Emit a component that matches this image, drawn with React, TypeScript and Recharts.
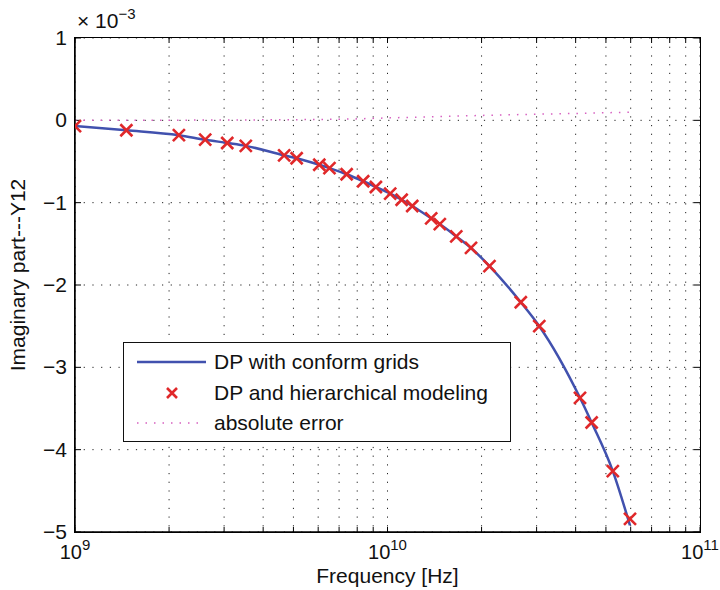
import React from "react"
import {
  CartesianGrid,
  ComposedChart,
  Label,
  Legend,
  Line,
  Scatter,
  XAxis,
  YAxis,
} from "recharts"

// frequencies in Hz
const freqs = [
  1.0e9, 1.46e9, 2.15e9, 2.61e9, 3.07e9, 3.52e9, 4.67e9, 5.12e9, 6.05e9, 6.52e9, 7.4e9, 8.36e9, 9.18e9,
  1.02e10, 1.11e10, 1.2e10, 1.38e10, 1.47e10, 1.66e10, 1.85e10, 2.12e10, 2.67e10, 3.06e10, 4.13e10,
  4.5e10, 5.26e10, 5.97e10,
]

// imaginary part of Y12, in units of 1e-3
const conformValues = [
  -0.07, -0.12, -0.18, -0.235, -0.275, -0.31, -0.425, -0.46, -0.54, -0.58, -0.655, -0.74, -0.81, -0.89,
  -0.965, -1.04, -1.19, -1.26, -1.41, -1.55, -1.77, -2.21, -2.5, -3.37, -3.67, -4.26, -4.92,
]
const hierValues = [
  -0.07, -0.12, -0.18, -0.235, -0.275, -0.31, -0.425, -0.46, -0.54, -0.58, -0.655, -0.74, -0.81, -0.89,
  -0.965, -1.04, -1.19, -1.26, -1.41, -1.55, -1.77, -2.21, -2.5, -3.37, -3.67, -4.26, -4.84,
]
const errorValues = [
  0, 0, 0.002, 0.003, 0.004, 0.005, 0.007, 0.008, 0.01, 0.012, 0.015, 0.02, 0.025, 0.03, 0.034, 0.037,
  0.043, 0.046, 0.051, 0.056, 0.062, 0.07, 0.075, 0.085, 0.088, 0.094, 0.1,
]

const xTicks = [
  1e9, 2e9, 3e9, 4e9, 5e9, 6e9, 7e9, 8e9, 9e9, 1e10, 2e10, 3e10, 4e10, 5e10, 6e10, 7e10, 8e10, 9e10, 1e11,
]
const yTicks = [-5, -4, -3, -2, -1, 0, 1]

const seriesNames = ["DP with conform grids", "DP and hierarchical modeling", "absolute error"]

const data = freqs.map((f, i) => ({
  freq: f,
  conform: conformValues[i],
  hier: hierValues[i],
  err: errorValues[i],
}))

const FONT = "'Liberation Sans', Arial, Helvetica, sans-serif"
const BLUE = "#4151ae"
const RED = "#e0282a"
const PINK = "#d660c0"
const GRID_DASH = "1.2 7.5"

// plot box (matches the chart margins / axis sizes below)
const PLOT = { left: 75, top: 38, width: 625, height: 494 }

const isDecade = (v: number) => Math.abs(Math.log10(v) - Math.round(Math.log10(v))) < 1e-6

function BottomTick({ x, y, payload }: any) {
  const v = payload.value
  if (!isDecade(v)) return <g />
  return (
    <text x={x} y={y + 27} textAnchor="middle" fontFamily={FONT} fontSize={20} fill="#111">
      10
      <tspan dy={-9} fontSize={15}>
        {Math.round(Math.log10(v))}
      </tspan>
    </text>
  )
}

function LeftTick({ x, y, payload }: any) {
  const v = payload.value
  return (
    <text x={x - 8} y={y + 7} textAnchor="end" fontFamily={FONT} fontSize={21} fill="#111">
      {v < 0 ? `\u2212${Math.abs(v)}` : `${v}`}
    </text>
  )
}

// dotted grid line with short inward ticks on both ends (MATLAB style)
function VGridLine({ x1, y1, x2, y2 }: any) {
  return (
    <g>
      <line x1={x1} y1={y1} x2={x2} y2={y2} stroke="#222" strokeDasharray={GRID_DASH} />
      <line x1={x1} y1={y1} x2={x1} y2={y1 + 5} stroke="#000" />
      <line x1={x2} y1={y2} x2={x2} y2={y2 - 5} stroke="#000" />
    </g>
  )
}

function HGridLine({ x1, y1, x2, y2 }: any) {
  return (
    <g>
      <line x1={x1} y1={y1} x2={x2} y2={y2} stroke="#222" strokeDasharray={GRID_DASH} />
      <line x1={x1} y1={y1} x2={x1 + 6} y2={y1} stroke="#000" />
      <line x1={x2} y1={y2} x2={x2 - 6} y2={y2} stroke="#000" />
    </g>
  )
}

function Cross({ cx, cy, r = 6, w = 2.6 }: any) {
  if (cx == null || cy == null) return null
  return (
    <path
      d={`M${cx - r},${cy - r}L${cx + r},${cy + r}M${cx - r},${cy + r}L${cx + r},${cy - r}`}
      stroke={RED}
      strokeWidth={w}
      fill="none"
    />
  )
}

function LegendBox() {
  const row = { display: "flex", alignItems: "center", height: 30.5 }
  const sym = { width: 90, height: 30, flex: "none" as const }
  return (
    <div
      style={{
        boxSizing: "border-box",
        width: 388,
        height: 100,
        border: "1.5px solid #111",
        background: "#fff",
        paddingTop: 4,
        fontFamily: FONT,
        fontSize: 21,
        color: "#111",
      }}
    >
      <div style={row}>
        <svg style={sym}>
          <line x1={13} y1={15} x2={82} y2={15} stroke={BLUE} strokeWidth={2.5} />
        </svg>
        <span>{seriesNames[0]}</span>
      </div>
      <div style={row}>
        <svg style={sym}>
          <Cross cx={48} cy={15} r={5} w={2.6} />
        </svg>
        <span>{seriesNames[1]}</span>
      </div>
      <div style={row}>
        <svg style={sym}>
          <line x1={13} y1={15} x2={80} y2={15} stroke={PINK} strokeWidth={1.5} strokeDasharray="1.5 7" />
        </svg>
        <span>{seriesNames[2]}</span>
      </div>
    </div>
  )
}

export default function App() {
  return (
    <div style={{ position: "absolute", left: 0, top: 0, width: 720, height: 590, background: "#fff" }}>
      <ComposedChart
        width={720}
        height={590}
        data={data}
        margin={{ top: PLOT.top, right: 720 - PLOT.left - PLOT.width, bottom: 0, left: 0 }}
      >
        <CartesianGrid
          vertical={(p: any) => <VGridLine key={p.key} {...p} />}
          horizontal={(p: any) => <HGridLine key={p.key} {...p} />}
        />
        <XAxis
          dataKey="freq"
          type="number"
          scale="log"
          domain={[1e9, 1e11]}
          ticks={xTicks}
          allowDataOverflow
          height={590 - PLOT.top - PLOT.height}
          tickLine={false}
          tickSize={0}
          tickMargin={0}
          tick={<BottomTick />}
          axisLine={{ stroke: "#000", strokeWidth: 1.5 }}
          interval={0}
        >
          <Label
            content={({ viewBox }: any) => (
              <text
                x={viewBox.x + viewBox.width / 2}
                y={viewBox.y + 51}
                textAnchor="middle"
                fontFamily={FONT}
                fontSize={21}
                fill="#111"
              >
                Frequency [Hz]
              </text>
            )}
          />
        </XAxis>
        <YAxis
          type="number"
          domain={[-5, 1]}
          ticks={yTicks}
          allowDataOverflow
          width={PLOT.left}
          tickLine={false}
          tickSize={0}
          tickMargin={0}
          tick={<LeftTick />}
          axisLine={{ stroke: "#000", strokeWidth: 1.5 }}
          interval={0}
        >
          <Label
            content={({ viewBox }: any) => (
              <g>
                <text
                  transform={`translate(25, ${viewBox.y + viewBox.height / 2 - 10}) rotate(-90)`}
                  textAnchor="middle"
                  fontFamily={FONT}
                  fontSize={21}
                  fill="#111"
                >
                  Imaginary part---Y12
                </text>
                <text x={77} y={28} fontFamily={FONT} fontSize={21} fill="#111">
                  {"\u00d7 10"}
                  <tspan dy={-9} fontSize={15}>
                    {"\u22123"}
                  </tspan>
                </text>
              </g>
            )}
          />
        </YAxis>
        <Legend
          layout="vertical"
          align="center"
          verticalAlign="middle"
          content={() => <LegendBox />}
          wrapperStyle={{ left: 123, top: 342, width: 388, height: 100 }}
        />
        <Line
          dataKey="err"
          type="linear"
          stroke={PINK}
          strokeWidth={1.5}
          strokeDasharray="1.5 7"
          dot={false}
          isAnimationActive={false}
        />
        <Line
          dataKey="conform"
          type="monotone"
          stroke={BLUE}
          strokeWidth={2.5}
          dot={false}
          isAnimationActive={false}
        />
        <Scatter dataKey="hier" shape={<Cross />} isAnimationActive={false} />
      </ComposedChart>
      {/* axes box frame */}
      <div
        style={{
          position: "absolute",
          left: PLOT.left - 0.75,
          top: PLOT.top - 0.75,
          width: PLOT.width + 1.5,
          height: PLOT.height + 1.5,
          boxSizing: "border-box",
          border: "1.5px solid #000",
          pointerEvents: "none",
        }}
      />
    </div>
  )
}
